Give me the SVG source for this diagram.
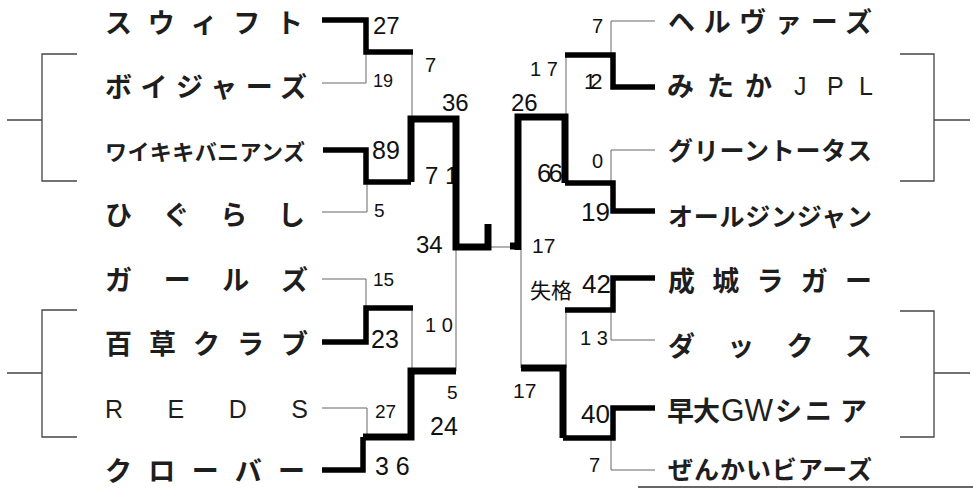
<svg xmlns="http://www.w3.org/2000/svg" width="973" height="489" viewBox="0 0 973 489">
<style>
.bg{fill:#fff}
.thin{fill:none;stroke:#666;stroke-width:1}
.brk{fill:none;stroke:#444;stroke-width:1.3}
.thick{fill:none;stroke:#000;stroke-width:5.5;stroke-linejoin:miter;stroke-linecap:butt}
.thick2{fill:none;stroke:#000;stroke-width:7;stroke-linejoin:miter;stroke-linecap:butt}
.nm{font-family:"Noto Sans CJK JP","Liberation Sans",sans-serif;font-weight:700;fill:#1e1e1e;dominant-baseline:central}
.nm27{font-size:27px}
.nm25{font-size:25px}
.lat{font-family:"Liberation Sans",sans-serif;font-weight:400;fill:#1e1e1e}
.sc{font-family:"Liberation Sans",Arial,sans-serif;fill:#111}
.jp{font-family:"Noto Sans CJK JP",sans-serif;fill:#111}
</style>
<rect class="bg" width="973" height="489"/>

<g id="connectors">
  <path class="brk" d="M77,54 H42 V181 H77 M7,120 H42"/>
  <path class="brk" d="M77,310 H42 V437 H77 M7,373 H42"/>
  <path class="brk" d="M900,54 H934 V181 H900 M934,120 H970"/>
  <path class="brk" d="M900,311 H934 V437 H900 M934,373 H970"/>
  <path fill="none" stroke="#333" stroke-width="1.5" d="M638,487 H973"/>

  <path class="thin" d="M322,83 H366 V52"/>
  <path class="thin" d="M322,212 H367 V182"/>
  <path class="thin" d="M412,52 V119"/>
  <path class="thin" d="M322,279 H366 V308"/>
  <path class="thin" d="M412,308 V371"/>
  <path class="thin" d="M322,408 H367 V437"/>
  <path class="thin" d="M456,371 V247"/>
  <path class="thin" d="M655,21 H611 V55"/>
  <path class="thin" d="M566,55 V117"/>
  <path class="thin" d="M655,150 H611 V183"/>
  <path class="thin" d="M655,340 H611 V310"/>
  <path class="thin" d="M566,310 V368"/>
  <path class="thin" d="M655,470 H611 V438"/>
  <path class="thin" d="M521,368 V250"/>
  <path class="thin" d="M490,247 H512"/>
</g>

<g id="scores">
  <text class="sc" x="373" y="34" font-size="24">27</text>
  <text class="sc" x="373" y="87" font-size="18">19</text>
  <text class="sc" x="425" y="72" font-size="20">7</text>
  <text class="sc" x="442" y="111" font-size="24">36</text>
  <text class="sc" x="372" y="159" font-size="25">89</text>
  <text class="sc" x="425" y="184" font-size="24">7 1</text>
  <text class="sc" x="374" y="217" font-size="19">5</text>
  <text class="sc" x="416" y="253" font-size="24">34</text>

  <text class="sc" x="373" y="286" font-size="19">15</text>
  <text class="sc" x="425" y="332" font-size="20">1 0</text>
  <text class="sc" x="371" y="348" font-size="25">23</text>
  <text class="sc" x="447" y="399" font-size="19">5</text>
  <text class="sc" x="375" y="418" font-size="19">27</text>
  <text class="sc" x="430" y="435" font-size="25">24</text>
  <text class="sc" x="375" y="475" font-size="25">3 6</text>

  <text class="sc" x="592" y="33" font-size="20">7</text>
  <text class="sc" x="530" y="76" font-size="20">1 7</text>
  <text class="sc" x="584" y="89" font-size="22" letter-spacing="-6">12</text>
  <text class="sc" x="511" y="111" font-size="24">26</text>
  <text class="sc" x="537" y="182" font-size="26" letter-spacing="-3">66</text>
  <text class="sc" x="592" y="168" font-size="20">0</text>
  <text class="sc" x="581" y="221" font-size="26">19</text>

  <text class="sc" x="532" y="253" font-size="21">17</text>
  <text class="jp" x="530" y="298" font-size="21">失格</text>
  <text class="sc" x="582" y="293" font-size="26">42</text>
  <text class="sc" x="580" y="345" font-size="20">1 3</text>
  <text class="sc" x="513" y="398" font-size="21">17</text>
  <text class="sc" x="581" y="423" font-size="26">40</text>
  <text class="sc" x="589" y="472" font-size="20">7</text>
</g>

<g id="winners">
  <path class="thick" d="M322,20 H366 V52 H413"/>
  <path class="thick" d="M323,150 H366 V182 H411"/>
  <path class="thick2" d="M411,182 V119 H456 V247 H488 V224"/>
  <path class="thick" d="M322,342 H366 V308 H413"/>
  <path class="thick2" d="M456,371 H411 V437 H363"/>
  <path class="thick" d="M363,437 V470 H322"/>

  <path class="thick" d="M655,87 H613 V55 H565"/>
  <path class="thick" d="M655,211 H613 V183 H565"/>
  <path class="thick2" d="M565,183 V117 H518 V250"/>
  <path class="thick2" d="M510,246 H521"/>
  <path class="thick" d="M655,278 H613 V310 H565"/>
  <path class="thick" d="M655,408 H613 V438 H563"/>
  <path class="thick2" d="M563,438 V368 H521"/>
</g>

<g id="team-left-1"><text class="nm nm27" x="105" y="21" textLength="198" lengthAdjust="spacing">スウィフト</text></g>
<g id="team-left-2"><text class="nm nm27" x="105" y="85" textLength="202" lengthAdjust="spacing">ボイジャーズ</text></g>
<g id="team-left-3"><text class="nm" x="105" y="150" font-size="22" font-weight="500" textLength="200" lengthAdjust="spacing">ワイキキバニアンズ</text></g>
<g id="team-left-4"><text class="nm nm27" x="105" y="213" textLength="200" lengthAdjust="spacing">ひぐらし</text></g>
<g id="team-left-5"><text class="nm nm27" x="105" y="278" textLength="203" lengthAdjust="spacing">ガールズ</text></g>
<g id="team-left-6"><text class="nm nm27" x="105" y="342" textLength="203" lengthAdjust="spacing">百草クラブ</text></g>
<g id="team-left-7"><text class="lat" x="105" y="418" font-size="25" textLength="203" lengthAdjust="spacing">REDS</text></g>
<g id="team-left-8"><text class="nm nm27" x="105" y="469" textLength="200" lengthAdjust="spacing">クローバー</text></g>

<g id="team-right-1"><text class="nm nm27" x="668" y="20" textLength="204" lengthAdjust="spacing">ヘルヴァーズ</text></g>
<g id="team-right-2"><text class="nm nm27" y="84"><tspan x="667">み</tspan><tspan x="707">た</tspan><tspan x="745">か</tspan></text><text class="lat" y="95" font-size="25"><tspan x="794">J</tspan><tspan x="827">P</tspan><tspan x="859">L</tspan></text></g>
<g id="team-right-3"><text class="nm nm25" x="668" y="149" textLength="204" lengthAdjust="spacing">グリーントータス</text></g>
<g id="team-right-4"><text class="nm nm25" x="668" y="215" textLength="204" lengthAdjust="spacing">オールジンジャン</text></g>
<g id="team-right-5"><text class="nm nm27" x="668" y="279" textLength="204" lengthAdjust="spacing">成城ラガー</text></g>
<g id="team-right-6"><text class="nm nm27" x="668" y="344" textLength="204" lengthAdjust="spacing">ダックス</text></g>
<g id="team-right-7"><text class="nm nm27" y="409"><tspan x="667">早</tspan><tspan x="693">大</tspan></text><text class="lat" x="721" y="421" font-size="31" textLength="52" lengthAdjust="spacingAndGlyphs">GW</text><text class="nm nm27" y="409"><tspan x="775">シ</tspan><tspan x="805">ニ</tspan><tspan x="840">ア</tspan></text></g>
<g id="team-right-8"><text class="nm nm25" x="668" y="468" textLength="204" lengthAdjust="spacing">ぜんかいビアーズ</text></g>
</svg>
